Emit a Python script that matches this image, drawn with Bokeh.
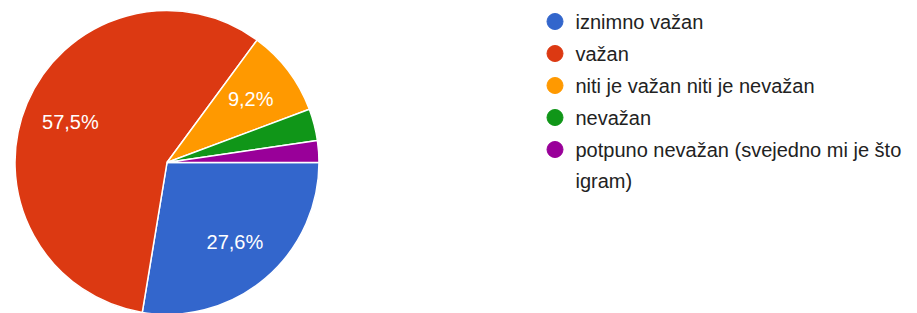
import math
from bokeh.plotting import figure
from bokeh.models import Range1d, ColumnDataSource
from bokeh.core.properties import value
from bokeh.embed import file_html
from bokeh.resources import INLINE

# ---- data ----
categories = [
    "iznimno važan",
    "važan",
    "niti je važan niti je nevažan",
    "nevažan",
    "potpuno nevažan (svejedno mi je što\nigram)",
]
percents = [27.6, 57.5, 9.2, 3.4, 2.3]
colors = ["#3366CC", "#DC3912", "#FF9900", "#109618", "#990099"]
label_threshold = 5.0  # slices smaller than this get no label

# ---- layout (data units = screen pixels, y measured upward) ----
W, H = 917, 313
FONT = "Liberation Sans"
cx, cy, r = 166.5, H - 162.0, 152.0
label_f = 0.69

p = figure(width=W, height=H, output_backend="svg", toolbar_location=None,
           x_range=Range1d(0, W), y_range=Range1d(0, H), min_border=0,
           background_fill_color="white", border_fill_color="white")
p.axis.visible = False
p.grid.visible = False
p.outline_line_color = None

total = sum(percents)
starts, ends, lx, ly, ltxt = [], [], [], [], []
cum = 0.0
for v in percents:
    c0 = cum / total
    cum += v
    c1 = cum / total
    # clockwise from 3 o'clock
    starts.append(-c1 * 2 * math.pi)
    ends.append(-c0 * 2 * math.pi)
    mid = (c0 + c1) / 2 * 2 * math.pi
    if v >= label_threshold:
        lx.append(cx + label_f * r * math.cos(mid))
        ly.append(cy - label_f * r * math.sin(mid))
        ltxt.append(f"{v:.1f}%".replace(".", ","))

src = ColumnDataSource(dict(start=starts, end=ends, color=colors))
p.wedge(x=cx, y=cy, radius=r, radius_units="screen", start_angle="start",
        end_angle="end", fill_color="color", line_color="white",
        line_width=1.5, source=src)

p.text(x=lx, y=ly, text=ltxt, text_color="white", text_font=value(FONT),
       text_font_size="20px", text_align="center", text_baseline="middle")

# ---- legend ----
leg_x, row_h, line_h = 554.5, 32.0, 31.0
mx, my, tx, ty, tt = [], [], [], [], []
y = H - 21.0
for cat in categories:
    mx.append(leg_x)
    my.append(y)
    lines = cat.split("\n")
    for j, ln in enumerate(lines):
        tx.append(575)
        ty.append(y - j * line_h)
        tt.append(ln)
    y -= row_h

p.scatter(x=mx, y=my, size=16, marker="circle", fill_color=colors,
          line_color=colors)
p.text(x=tx, y=ty, text=tt, text_color="#222222", text_font=value(FONT),
       text_font_size="20px", text_align="left", text_baseline="middle")

open("out.html", "w").write(file_html(p, INLINE))
